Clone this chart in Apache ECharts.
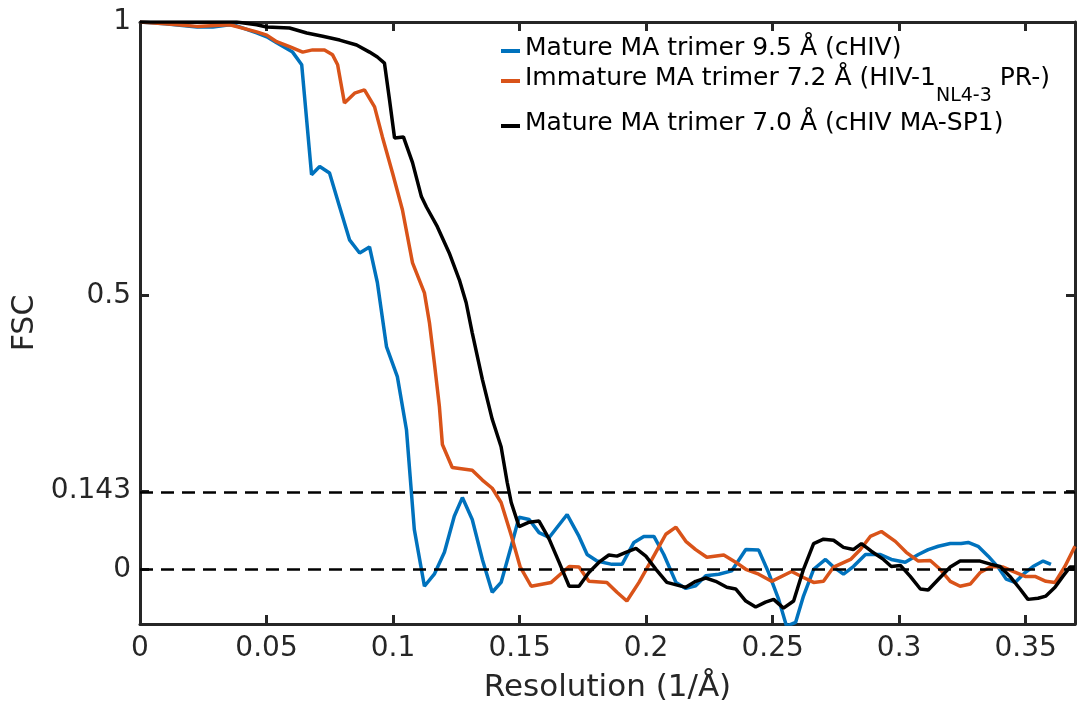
<!DOCTYPE html>
<html><head><meta charset="utf-8">
<script src="https://cdn.jsdelivr.net/npm/echarts@6/dist/echarts.min.js"></script>
<style>html,body{margin:0;padding:0;background:#fff}#c{width:1077px;height:704px}</style>
</head><body><div id="c"></div>
<script>
const seriesNames = ['Mature MA trimer 9.5 Å (cHIV)', 'Immature MA trimer 7.2 Å (HIV-1 NL4-3 PR-)', 'Mature MA trimer 7.0 Å (cHIV MA-SP1)'];
const resBlue = [0,0.01,0.0225,0.0288,0.0355,0.0382,0.0461,0.0501,0.054,0.0603,0.0639,0.0678,0.071,0.0749,0.0789,0.0828,0.0868,0.0907,0.0938,0.0974,0.1017,0.1053,0.1084,0.1124,0.1163,0.1203,0.1242,0.1274,0.1313,0.1353,0.1392,0.1427,0.1467,0.1498,0.1538,0.1577,0.1617,0.1688,0.1735,0.1767,0.1806,0.1865,0.1905,0.1952,0.1991,0.2031,0.207,0.2118,0.2157,0.2196,0.2236,0.2287,0.2338,0.2394,0.2445,0.2484,0.2524,0.2555,0.2591,0.2622,0.2662,0.2709,0.2741,0.278,0.2819,0.2867,0.2926,0.2969,0.3024,0.3076,0.3115,0.3155,0.3202,0.3245,0.3273,0.3312,0.3352,0.3391,0.3423,0.3458,0.3498,0.3529,0.3569,0.36];
const fscBlue = [1,0.997,0.991,0.991,0.995,0.993,0.98,0.973,0.962,0.945,0.922,0.721,0.736,0.724,0.662,0.602,0.578,0.589,0.524,0.407,0.352,0.255,0.073,-0.031,-0.009,0.031,0.097,0.131,0.091,0.018,-0.042,-0.024,0.042,0.095,0.091,0.067,0.058,0.1,0.06,0.027,0.015,0.009,0.009,0.049,0.06,0.06,0.027,-0.024,-0.035,-0.03,-0.012,-0.009,-0.003,0.036,0.035,-0.006,-0.055,-0.104,-0.097,-0.049,0,0.018,0.004,-0.009,0.005,0.027,0.027,0.018,0.013,0.027,0.036,0.042,0.047,0.047,0.049,0.042,0.024,0.004,-0.018,-0.024,-0.006,0.005,0.015,0.009];
const resOrange = [0,0.01,0.0225,0.0355,0.0461,0.0501,0.054,0.0591,0.0643,0.0682,0.0729,0.0761,0.0781,0.0808,0.0848,0.0887,0.0927,0.0958,0.0998,0.1037,0.1077,0.1124,0.1144,0.1163,0.1183,0.1195,0.1234,0.1313,0.1353,0.1392,0.1427,0.1467,0.1502,0.1546,0.1625,0.1696,0.1735,0.1774,0.1845,0.1885,0.1924,0.1972,0.2023,0.2078,0.2118,0.2157,0.2196,0.224,0.2307,0.2354,0.2394,0.2445,0.2496,0.2575,0.2622,0.2662,0.2701,0.2741,0.2808,0.2847,0.2886,0.293,0.2985,0.3028,0.3076,0.3123,0.3162,0.3202,0.3241,0.3281,0.332,0.3364,0.3411,0.345,0.3498,0.3537,0.358,0.3616,0.3655,0.3695];
const fscOrange = [1,0.997,0.992,0.995,0.982,0.976,0.964,0.955,0.945,0.949,0.949,0.94,0.922,0.852,0.87,0.876,0.845,0.79,0.724,0.657,0.56,0.505,0.45,0.378,0.298,0.228,0.186,0.181,0.163,0.148,0.122,0.062,0.005,-0.031,-0.024,0.005,0.004,-0.022,-0.024,-0.042,-0.058,-0.024,0.018,0.064,0.077,0.051,0.036,0.022,0.026,0.013,0,-0.009,-0.022,-0.004,-0.015,-0.024,-0.022,0.004,0.018,0.036,0.06,0.069,0.051,0.031,0.015,0.016,0,-0.022,-0.031,-0.027,-0.006,0.005,0.004,-0.004,-0.013,-0.013,-0.022,-0.024,0.005,0.042];
const resBlack = [0,0.0382,0.0461,0.0501,0.0591,0.0659,0.0722,0.0789,0.0856,0.0907,0.0938,0.0966,0.0986,0.1006,0.1041,0.1077,0.1112,0.1132,0.1175,0.1222,0.1262,0.1289,0.1313,0.1353,0.1392,0.1427,0.1451,0.1467,0.1498,0.1538,0.1577,0.1617,0.1656,0.1696,0.1735,0.1774,0.1814,0.1853,0.1885,0.192,0.196,0.1999,0.2039,0.2082,0.2157,0.2196,0.2236,0.2275,0.2319,0.2354,0.2394,0.2433,0.2472,0.2504,0.2543,0.2583,0.2622,0.2662,0.2701,0.2741,0.278,0.2819,0.2851,0.289,0.2938,0.2969,0.3005,0.3044,0.3084,0.3115,0.3162,0.3202,0.3241,0.3285,0.332,0.3364,0.3399,0.3438,0.3478,0.3509,0.3549,0.358,0.3616,0.3647,0.3675,0.3695];
const fscBlack = [1,1,0.995,0.991,0.989,0.98,0.974,0.967,0.958,0.945,0.936,0.925,0.858,0.788,0.79,0.743,0.681,0.662,0.626,0.578,0.529,0.487,0.432,0.347,0.274,0.224,0.159,0.122,0.078,0.086,0.088,0.055,0.013,-0.031,-0.031,-0.006,0.013,0.026,0.024,0.031,0.038,0.024,0,-0.024,-0.033,-0.022,-0.016,-0.022,-0.033,-0.036,-0.058,-0.069,-0.06,-0.055,-0.071,-0.058,0,0.047,0.055,0.053,0.04,0.036,0.047,0.033,0.018,0.005,0.007,-0.013,-0.036,-0.038,-0.015,0.004,0.015,0.015,0.015,0.009,0.005,-0.013,-0.036,-0.055,-0.053,-0.049,-0.033,-0.013,0.004,0.004];
const xTicks = [0,0.05,0.1,0.15,0.2,0.25,0.3,0.35];
const yTicks = [0,0.143,0.5,1];
const thresholds = [0.143, 0];

const colors = ['#0072BD', '#D95319', '#000000'];
const FONT = 'DejaVu Sans';
const AX = '#262626';
const zip = (xs, ys) => xs.map((x, i) => [x, ys[i]]);

const chart = echarts.init(document.getElementById('c'), null, {renderer: 'canvas'});
const xBase = {
  type: 'value', min: 0, max: 0.3695,
  axisLine: {onZero: false, lineStyle: {color: AX, width: 3}},
  axisTick: {inside: true, length: 9, lineStyle: {color: AX, width: 3}, customValues: xTicks},
  splitLine: {show: false}
};
const yBase = {
  type: 'value', min: -0.1, max: 1,
  axisLine: {onZero: false, lineStyle: {color: AX, width: 3}},
  axisTick: {inside: true, length: 9, lineStyle: {color: AX, width: 3}, customValues: yTicks},
  splitLine: {show: false}
};
const lineSeries = (name, xs, ys, color, extra) => Object.assign({
  name, type: 'line', data: zip(xs, ys), showSymbol: false, symbol: 'none',
  lineStyle: {color, width: 3.5}, itemStyle: {color}, silent: true, animation: false,
  emphasis: {disabled: true}
}, extra || {});

chart.setOption({
  animation: false,
  backgroundColor: '#fff',
  grid: {left: 140, right: 2, top: 22, bottom: 80, containLabel: false, outerBoundsMode: 'none'},
  legend: {
    orient: 'vertical', left: 501, top: 36, itemGap: 5, padding: 0,
    icon: 'rect', itemWidth: 19, itemHeight: 4,
    data: seriesNames,
    textStyle: {fontFamily: FONT, fontSize: 25, color: '#000',
      rich: {
        a: {fontFamily: FONT, fontSize: 25, color: '#000', lineHeight: 30, verticalAlign: 'top'},
        sub: {fontFamily: FONT, fontSize: 19, color: '#000', lineHeight: 22, verticalAlign: 'top', padding: [21, 0, 0, 0]}
      }},
    formatter: function (n) {
      if (n === seriesNames[1]) return '{a|Immature MA trimer 7.2 Å (HIV-1}{sub|NL4-3}{a| PR-)}';
      return '{a|' + n + '}';
    },
    selectedMode: false
  },
  xAxis: [
    Object.assign({}, xBase, {
      position: 'bottom',
      name: 'Resolution (1/Å)', nameLocation: 'middle', nameGap: 48,
      nameTextStyle: {fontFamily: FONT, fontSize: 31, color: AX},
      axisLabel: {fontFamily: FONT, fontSize: 28, color: AX, margin: 11, customValues: xTicks}
    }),
    Object.assign({}, xBase, {position: 'top', axisLabel: {show: false}})
  ],
  yAxis: [
    Object.assign({}, yBase, {
      position: 'left',
      name: 'FSC', nameLocation: 'middle', nameGap: 96,
      nameTextStyle: {fontFamily: FONT, fontSize: 30, color: AX},
      axisLabel: {fontFamily: FONT, fontSize: 28, color: AX, margin: 9, customValues: yTicks}
    }),
    Object.assign({}, yBase, {position: 'right', axisLabel: {show: false}})
  ],
  series: [
    lineSeries(seriesNames[0], resBlue, fscBlue, colors[0], {
      markLine: {
        silent: true, symbol: ['none', 'none'], animation: false,
        label: {show: false},
        lineStyle: {color: '#000', width: 2.5, type: [13, 8]},
        emphasis: {disabled: true},
        data: thresholds.map(v => ({yAxis: v}))
      }
    }),
    lineSeries(seriesNames[1], resOrange, fscOrange, colors[1]),
    lineSeries(seriesNames[2], resBlack, fscBlack, colors[2])
  ]
});
</script>
</body></html>
